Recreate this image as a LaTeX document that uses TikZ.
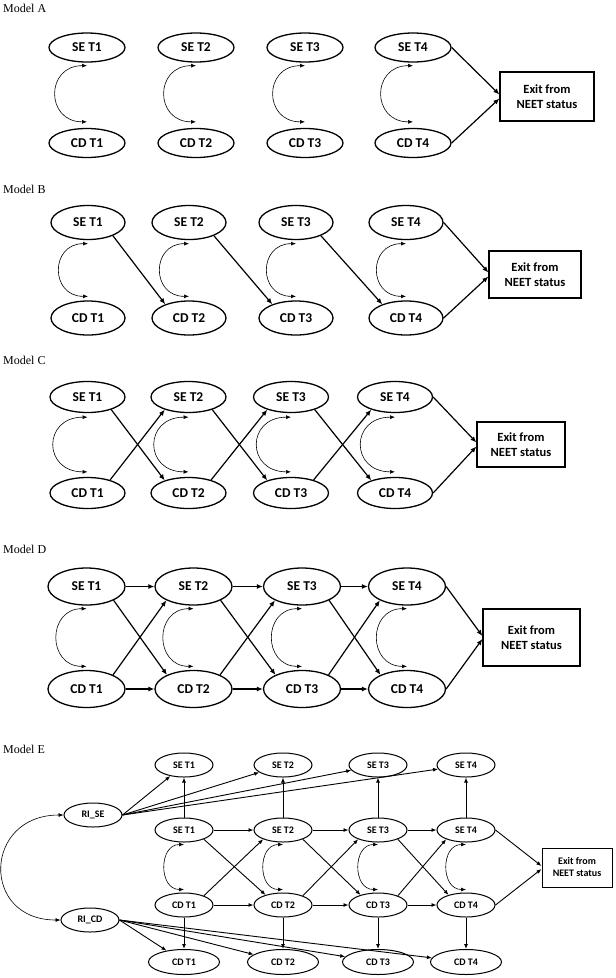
\documentclass[tikz,border=0pt]{standalone}
\usepackage{fontspec}
\setmainfont{Carlito}
\newfontfamily\capfont{Liberation Serif}
\usetikzlibrary{positioning,arrows.meta,shapes.geometric}

\newcommand{\bigtxt}{\fontsize{13.5}{15}\selectfont\bfseries}
\newcommand{\exittxt}{\fontsize{12.5}{14.5}\selectfont\bfseries}
\newcommand{\smalltxt}{\fontsize{10}{12}\selectfont\bfseries}

\begin{document}
\begin{tikzpicture}[x=1pt, y=-1pt,
  mlbl/.style={anchor=base west, inner sep=0pt, font=\capfont\fontsize{12}{14}\selectfont},
  lat/.style={ellipse, draw=black, line width=1.3pt, minimum width=76pt, minimum height=30pt, inner sep=0pt, font=\bigtxt},
  latA/.style={lat, minimum height=29pt},
  latB/.style={lat, minimum width=74pt, minimum height=34pt},
  latC/.style={lat, minimum width=75pt, minimum height=31pt},
  latD/.style={lat, minimum width=77pt, minimum height=37pt},
  latE/.style={ellipse, draw=black, line width=1pt, minimum width=58pt, minimum height=24pt, inner sep=0pt, font=\smalltxt},
  latEb/.style={latE, minimum width=71pt, minimum height=25pt},
  exitbox/.style={rectangle, draw=black, line width=1.2pt, align=center, inner sep=0pt, font=\exittxt},
  reg/.style={-{Latex[length=6pt,width=5pt]}, line width=1.2pt},
  regE/.style={-{Latex[length=5pt,width=4pt]}, line width=0.9pt},
  covar/.style={{Latex[length=5pt,width=4pt]}-{Latex[length=5pt,width=4pt]}, line width=0.6pt}
]
\useasboundingbox (0,0) rectangle (616,978);

% Model A
\node[mlbl] (labA) at (3,12) {Model A};
\node[latA] (ASE1) at (87,47.5) {SE T1};
\node[latA] (ASE2) at (196,47.5) {SE T2};
\node[latA] (ASE3) at (305,47.5) {SE T3};
\node[latA] (ASE4) at (413,47.5) {SE T4};
\node[latA] (ACD1) at (87,143) {CD T1};
\node[latA] (ACD2) at (196,143) {CD T2};
\node[latA] (ACD3) at (305,143) {CD T3};
\node[latA] (ACD4) at (413,143) {CD T4};
\node[exitbox, minimum width=94pt, minimum height=49pt] (AEX) at (547,96.5) {Exit from\\NEET status};
\draw[covar, looseness=1.9] ([yshift=-3pt]ASE1.south) to[out=180,in=180] ([yshift=6pt]ACD1.north);
\draw[covar, looseness=1.9] ([yshift=-3pt]ASE2.south) to[out=180,in=180] ([yshift=6pt]ACD2.north);
\draw[covar, looseness=1.9] ([yshift=-3pt]ASE3.south) to[out=180,in=180] ([yshift=6pt]ACD3.north);
\draw[covar, looseness=1.9] ([yshift=-3pt]ASE4.south) to[out=180,in=180] ([yshift=6pt]ACD4.north);
\draw[reg] (ASE4.east) -- ([yshift=2pt]AEX.west);
\draw[reg] (ACD4.east) -- ([yshift=-2pt]AEX.west);

% Model B
\node[mlbl] (labB) at (3,193) {Model B};
\node[latB] (BSE1) at (88,222.5) {SE T1};
\node[latB] (BSE2) at (189,222.5) {SE T2};
\node[latB] (BSE3) at (296,222.5) {SE T3};
\node[latB] (BSE4) at (406,222.5) {SE T4};
\node[latB] (BCD1) at (88,318) {CD T1};
\node[latB] (BCD2) at (189,318) {CD T2};
\node[latB] (BCD3) at (296,318) {CD T3};
\node[latB] (BCD4) at (406,318) {CD T4};
\node[exitbox, minimum width=92pt, minimum height=47pt] (BEX) at (535,274.5) {Exit from\\NEET status};
\draw[covar, looseness=1.85] ([yshift=-3.5pt]BSE1.south) to[out=180,in=180] ([yshift=4pt]BCD1.north);
\draw[covar, looseness=1.85] ([yshift=-3.5pt]BSE2.south) to[out=180,in=180] ([yshift=4pt]BCD2.north);
\draw[covar, looseness=1.85] ([yshift=-3.5pt]BSE3.south) to[out=180,in=180] ([yshift=4pt]BCD3.north);
\draw[covar, looseness=1.85] ([yshift=-3.5pt]BSE4.south) to[out=180,in=180] ([yshift=4pt]BCD4.north);
% lagged paths SE -> CD
\draw[reg] (BSE1.-28) -- (BCD2.150);
\draw[reg] (BSE2.-28) -- (BCD3.150);
\draw[reg] (BSE3.-28) -- (BCD4.150);
\draw[reg] (BSE4.east) -- ([yshift=2pt]BEX.west);
\draw[reg] (BCD4.east) -- ([yshift=-2pt]BEX.west);

% Model C
\node[mlbl] (labC) at (3,364) {Model C};
\node[latC] (CSE1) at (87.5,397) {SE T1};
\node[latC] (CSE2) at (188.5,397) {SE T2};
\node[latC] (CSE3) at (291,397) {SE T3};
\node[latC] (CSE4) at (395,397) {SE T4};
\node[latC] (CCD1) at (87.5,493) {CD T1};
\node[latC] (CCD2) at (188.5,493) {CD T2};
\node[latC] (CCD3) at (291,493) {CD T3};
\node[latC] (CCD4) at (395,493) {CD T4};
\node[exitbox, minimum width=88pt, minimum height=45pt] (CEX) at (521,444.5) {Exit from\\NEET status};
\draw[covar, looseness=2.1] ([yshift=-4pt]CSE1.south) to[out=180,in=180] ([yshift=5pt]CCD1.north);
\draw[covar, looseness=2.1] ([yshift=-4pt]CSE2.south) to[out=180,in=180] ([yshift=5pt]CCD2.north);
\draw[covar, looseness=2.1] ([yshift=-4pt]CSE3.south) to[out=180,in=180] ([yshift=5pt]CCD3.north);
\draw[covar, looseness=2.1] ([yshift=-4pt]CSE4.south) to[out=180,in=180] ([yshift=5pt]CCD4.north);
% cross-lagged paths
\draw[reg] (CSE1.-28) -- (CCD2.152);
\draw[reg] (CCD1.30) -- (CSE2.208);
\draw[reg] (CSE2.-28) -- (CCD3.152);
\draw[reg] (CCD2.30) -- (CSE3.208);
\draw[reg] (CSE3.-28) -- (CCD4.152);
\draw[reg] (CCD3.30) -- (CSE4.208);
\draw[reg] (CSE4.east) -- ([yshift=2pt]CEX.west);
\draw[reg] (CCD4.east) -- ([yshift=-2pt]CEX.west);

% Model D
\node[mlbl] (labD) at (3,553) {Model D};
\node[latD] (DSE1) at (86.5,586.5) {SE T1};
\node[latD] (DSE2) at (193.5,586.5) {SE T2};
\node[latD] (DSE3) at (302,586.5) {SE T3};
\node[latD] (DSE4) at (407,586.5) {SE T4};
\node[latD] (DCD1) at (86.5,689) {CD T1};
\node[latD] (DCD2) at (193.5,689) {CD T2};
\node[latD] (DCD3) at (302,689) {CD T3};
\node[latD] (DCD4) at (407,689) {CD T4};
\node[exitbox, minimum width=97pt, minimum height=57pt] (DEX) at (531.5,637.5) {Exit from\\NEET status};
\draw[covar, looseness=1.75] ([yshift=-3pt]DSE1.south) to[out=180,in=180] ([yshift=3.5pt]DCD1.north);
\draw[covar, looseness=1.75] ([yshift=-3pt]DSE2.south) to[out=180,in=180] ([yshift=3.5pt]DCD2.north);
\draw[covar, looseness=1.75] ([yshift=-3pt]DSE3.south) to[out=180,in=180] ([yshift=3.5pt]DCD3.north);
\draw[covar, looseness=1.75] ([yshift=-3pt]DSE4.south) to[out=180,in=180] ([yshift=3.5pt]DCD4.north);
% autoregressive paths
\draw[reg] (DSE1) -- (DSE2);
\draw[reg] (DSE2) -- (DSE3);
\draw[reg] (DSE3) -- (DSE4);
\draw[reg] (DCD1) -- (DCD2);
\draw[reg] (DCD2) -- (DCD3);
\draw[reg] (DCD3) -- (DCD4);
% cross-lagged paths
\draw[reg] (DSE1.-27) -- (DCD2.152);
\draw[reg] (DCD1.28) -- (DSE2.207);
\draw[reg] (DSE2.-27) -- (DCD3.152);
\draw[reg] (DCD2.28) -- (DSE3.207);
\draw[reg] (DSE3.-27) -- (DCD4.152);
\draw[reg] (DCD3.28) -- (DSE4.207);
\draw[reg] (DSE4.east) -- ([yshift=1.5pt]DEX.west);
\draw[reg] (DCD4.east) -- ([yshift=-1.5pt]DEX.west);

% Model E
\node[mlbl] (labE) at (3,753) {Model E};
\node[latE] (ETS1) at (184,765) {SE T1};
\node[latE] (ETS2) at (283,765) {SE T2};
\node[latE] (ETS3) at (378,765) {SE T3};
\node[latE] (ETS4) at (466,765) {SE T4};
\node[latE] (RISE) at (93,815) {RI\_SE};
\node[latE] (ESE1) at (184,830) {SE T1};
\node[latE] (ESE2) at (283,830) {SE T2};
\node[latE] (ESE3) at (378,830) {SE T3};
\node[latE] (ESE4) at (466,830) {SE T4};
\node[latE] (ECD1) at (184,905) {CD T1};
\node[latE] (ECD2) at (283,905) {CD T2};
\node[latE] (ECD3) at (378,905) {CD T3};
\node[latE] (ECD4) at (466,905) {CD T4};
\node[latE] (RICD) at (90,920) {RI\_CD};
\node[latEb] (EBC1) at (184,962) {CD T1};
\node[latEb] (EBC2) at (283,962) {CD T2};
\node[latEb] (EBC3) at (378,962) {CD T3};
\node[latEb] (EBC4) at (466,962) {CD T4};
\node[exitbox, minimum width=70pt, minimum height=39pt, line width=1pt, font=\smalltxt] (EEX) at (577,867.5) {Exit from\\NEET status};
\draw[covar, looseness=1.95] (RISE.west) to[out=180,in=180] (RICD.west);
\draw[covar, looseness=1.45] ([yshift=-2pt]ESE1.south) to[out=180,in=180] ([yshift=3pt]ECD1.north);
\draw[covar, looseness=1.45] ([yshift=-2pt]ESE2.south) to[out=180,in=180] ([yshift=3pt]ECD2.north);
\draw[covar, looseness=1.45] ([yshift=-2pt]ESE3.south) to[out=180,in=180] ([yshift=3pt]ECD3.north);
\draw[covar, looseness=1.45] ([yshift=-2pt]ESE4.south) to[out=180,in=180] ([yshift=3pt]ECD4.north);
% random intercepts
\draw[regE] (RISE.east) -- (ETS1);
\draw[regE] (RISE.east) -- (ETS2);
\draw[regE] (RISE.east) -- (ETS3);
\draw[regE] (RISE.east) -- (ETS4);
\draw[regE] (RICD.east) -- (EBC1);
\draw[regE] (RICD.east) -- (EBC2);
\draw[regE] (RICD.east) -- (EBC3);
\draw[regE] (RICD.east) -- (EBC4);
\draw[regE] (ESE1) -- (ETS1);
\draw[regE] (ESE2) -- (ETS2);
\draw[regE] (ESE3) -- (ETS3);
\draw[regE] (ESE4) -- (ETS4);
\draw[regE] (ECD1) -- (EBC1);
\draw[regE] (ECD2) -- (EBC2);
\draw[regE] (ECD3) -- (EBC3);
\draw[regE] (ECD4) -- (EBC4);
% within-person paths
\draw[regE] (ESE1) -- (ESE2);
\draw[regE] (ESE2) -- (ESE3);
\draw[regE] (ESE3) -- (ESE4);
\draw[regE] (ECD1) -- (ECD2);
\draw[regE] (ECD2) -- (ECD3);
\draw[regE] (ECD3) -- (ECD4);
\draw[regE] (ESE1.-25) -- (ECD2.150);
\draw[regE] (ECD1.25) -- (ESE2.205);
\draw[regE] (ESE2.-25) -- (ECD3.150);
\draw[regE] (ECD2.25) -- (ESE3.205);
\draw[regE] (ESE3.-25) -- (ECD4.150);
\draw[regE] (ECD3.25) -- (ESE4.205);
\draw[regE] (ESE4.east) -- ([yshift=1.5pt]EEX.west);
\draw[regE] (ECD4.east) -- ([yshift=-1.5pt]EEX.west);

\end{tikzpicture}
\end{document}
